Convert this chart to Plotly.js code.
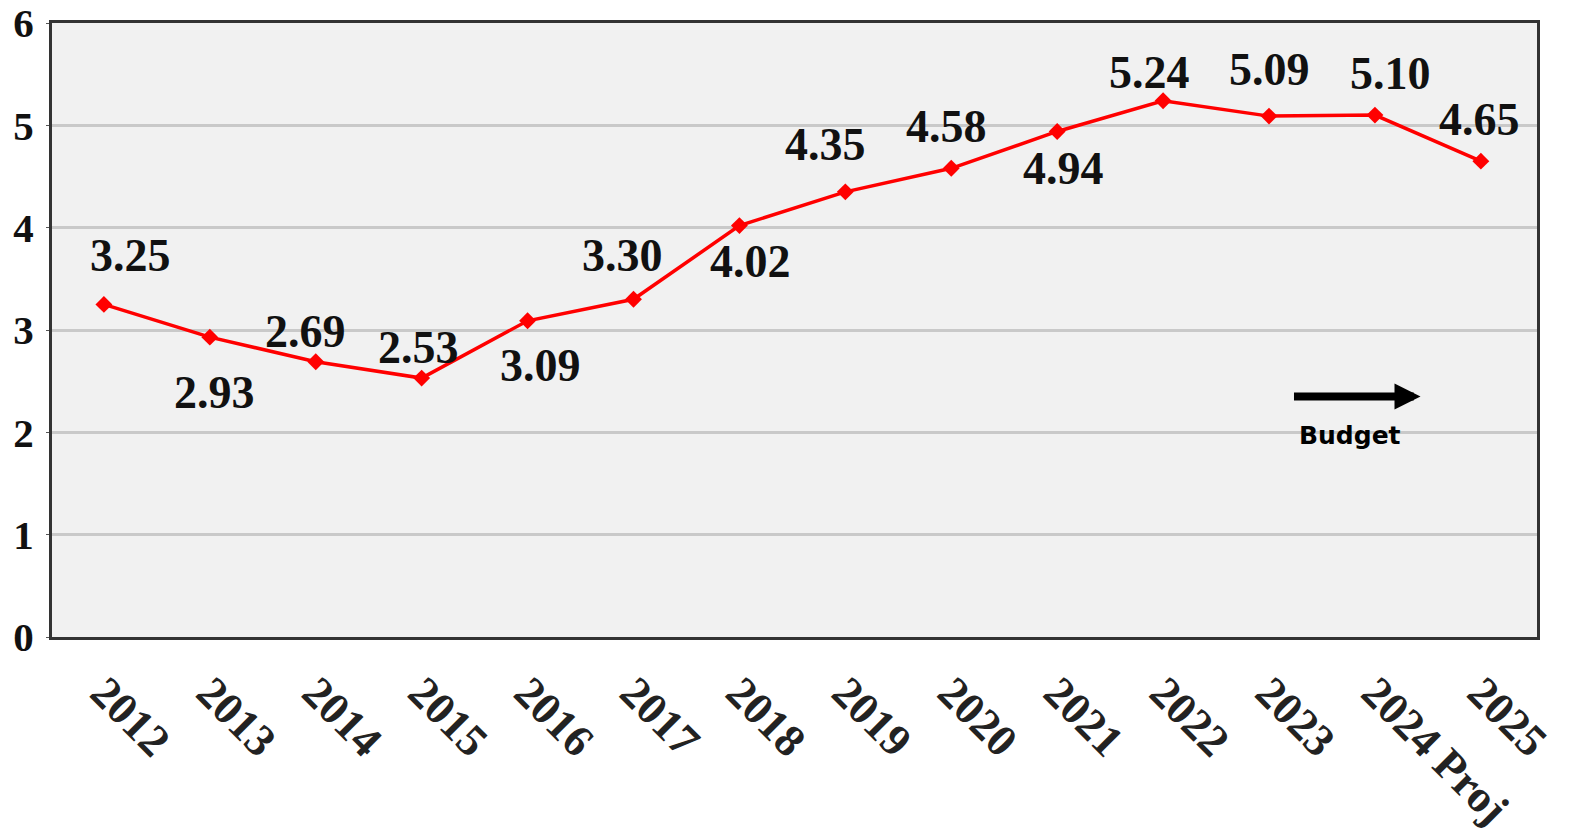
<!DOCTYPE html>
<html>
<head>
<meta charset="utf-8">
<script src="https://cdn.plot.ly/plotly-3.0.1.min.js"></script>
<style>html,body{margin:0;padding:0;background:#fff;}#chart{width:1574px;height:839px;}</style>
</head>
<body>
<div id="chart"></div>
<script>
const categories = ["2012","2013","2014","2015","2016","2017","2018","2019","2020","2021","2022","2023","2024 Proj","2025"];
const values = [3.25,2.93,2.69,2.53,3.09,3.30,4.02,4.35,4.58,4.94,5.24,5.09,5.10,4.65];
const valueLabels = ["3.25","2.93","2.69","2.53","3.09","3.30","4.02","4.35","4.58","4.94","5.24","5.09","5.10","4.65"];
const yTicks = [0,1,2,3,4,5,6];

// label offsets in pixels (style only)
const labelShift = [[27,49],[5,-55],[-10,30],[-3,31],[13,-45],[-11,44],[11,-36],[-20,47],[-5,42],[6,-37],[-14,28],[0,47],[16,42],[-1,42]];

const serif = "Liberation Serif, Times New Roman, serif";

const annotations = values.map((v,i)=>({
  x: i, y: v, xref:'x', yref:'y', text: valueLabels[i], showarrow:false,
  xshift: labelShift[i][0], yshift: labelShift[i][1],
  font:{family:serif, size:46, color:'#111', weight:700}
}));
annotations.push({
  x: 12.43, y: 2.35, xref:'x', yref:'y', ax:-128, ay:0, axref:'pixel', ayref:'pixel',
  showarrow:true, arrowhead:2, arrowsize:0.65, arrowwidth:8, arrowcolor:'#000', text:''
});
annotations.push({
  x: 11.76, y: 1.97, xref:'x', yref:'y', text:'Budget', showarrow:false,
  font:{family:'DejaVu Sans, sans-serif', size:25, color:'#000', weight:700}
});

const trace = {
  x: categories.map((c,i)=>i), y: values, type:'scatter', mode:'lines+markers',
  line:{color:'#ff0000', width:3.5},
  marker:{symbol:'diamond', size:13, color:'#ff0000'},
  hoverinfo:'skip'
};

const layout = {
  width:1574, height:839,
  margin:{l:52, r:37, t:23, b:202},
  paper_bgcolor:'#ffffff', plot_bgcolor:'#f1f1f1',
  showlegend:false,
  xaxis:{
    range:[-0.49,13.53], tickmode:'array', tickvals:categories.map((c,i)=>i), ticktext:categories,
    tickangle:45, tickfont:{family:serif, size:45, color:'#222', weight:700},
    showgrid:false, zeroline:false, showline:true, linecolor:'#333', linewidth:3, mirror:true,
    ticks:'', ticklabelstandoff:8, ticklabeloverflow:'allow', fixedrange:true
  },
  yaxis:{
    range:[0,6], tickmode:'array', tickvals:yTicks, ticktext:yTicks.map(String),
    tickfont:{family:serif, size:41, color:'#111', weight:700},
    showgrid:true, gridcolor:'#c9c9c9', gridwidth:3, zeroline:false,
    showline:true, linecolor:'#333', linewidth:3, mirror:true,
    ticks:'outside', ticklen:3, tickcolor:'#555', ticklabelstandoff:4,
    ticklabeloverflow:'allow', fixedrange:true
  },
  annotations: annotations
};

Plotly.newPlot('chart',[trace],layout,{displayModeBar:false, staticPlot:true});
</script>
</body>
</html>
